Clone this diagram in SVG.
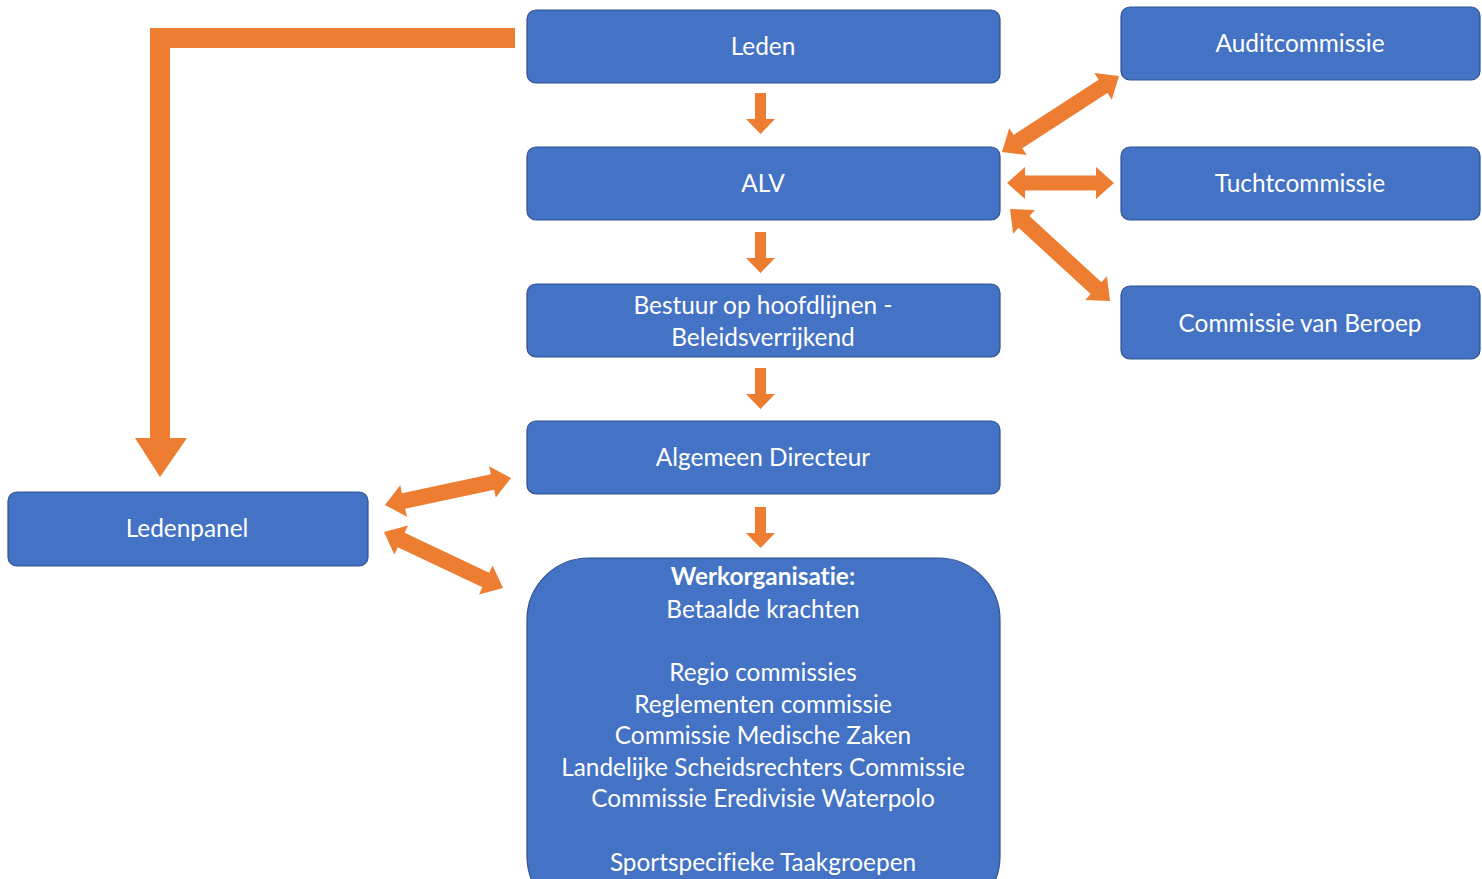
<svg xmlns="http://www.w3.org/2000/svg" width="1482" height="879" viewBox="0 0 1482 879">
<defs>
<style>
.box{fill:#4472C4;stroke:#2F528F;stroke-width:1.2}
.t{font-family:Lato,"Open Sans","Liberation Sans",sans-serif;font-size:24.4px;fill:#fff;text-anchor:middle;font-variant-ligatures:none}
.b{font-weight:bold}
.arr{fill:#ED7D31}
</style>
</defs>
<rect width="1482" height="879" fill="#fff"/>
<g id="connectors" class="arr">
  <polygon points="515,28 150,28 150,438 135,438 160,477 187,438 170,438 170,48 515,48"/>
  <polygon points="755,93 766,93 766,119 775,119 760.5,134 746,119 755,119"/>
  <polygon points="755,232 766,232 766,258 775,258 760.5,273 746,258 755,258"/>
  <polygon points="755,368 766,368 766,394 775,394 760.5,409 746,394 755,394"/>
  <polygon points="755,507 766,507 766,533 775,533 760.5,548 746,533 755,533"/>
  <polygon transform="translate(1002,152) rotate(-33)" points="0,0 19,-16 19,-8 120.5,-8 120.5,-16 139.5,0 120.5,16 120.5,8 19,8 19,16"/>
  <polygon transform="translate(1007,183)" points="0,0 18,-16 18,-7.5 89,-7.5 89,-16 107,0 89,16 89,7.5 18,7.5 18,16"/>
  <polygon transform="translate(1010,209) rotate(42.6)" points="0,0 19,-16 19,-8 116.9,-8 116.9,-16 135.9,0 116.9,16 116.9,8 19,8 19,16"/>
  <polygon transform="translate(385,505) rotate(-12.1)" points="0,0 19,-16 19,-8 109.9,-8 109.9,-16 128.9,0 109.9,16 109.9,8 19,8 19,16"/>
  <polygon transform="translate(384,532) rotate(25.2)" points="0,0 19,-16 19,-8 112.5,-8 112.5,-16 131.5,0 112.5,16 112.5,8 19,8 19,16"/>
</g>
<g id="leden"><rect class="box" x="527" y="10" width="473" height="73" rx="9"/><text class="t" x="763" y="55">Leden</text></g>
<g id="alv"><rect class="box" x="527" y="147" width="473" height="73" rx="9"/><text class="t" x="763" y="192">ALV</text></g>
<g id="bestuur"><rect class="box" x="527" y="284" width="473" height="73" rx="9"/><text class="t" x="763" y="314">Bestuur op hoofdlijnen -</text><text class="t" x="763" y="346">Beleidsverrijkend</text></g>
<g id="directeur"><rect class="box" x="527" y="421" width="473" height="73" rx="9"/><text class="t" x="763" y="466">Algemeen Directeur</text></g>
<g id="werkorganisatie"><rect class="box" x="527" y="558" width="473" height="360" rx="62"/>
<text class="t b" x="763" y="585">Werkorganisatie:</text>
<text class="t" x="763" y="618">Betaalde krachten</text>
<text class="t" x="763" y="681">Regio commissies</text>
<text class="t" x="763" y="713">Reglementen commissie</text>
<text class="t" x="763" y="744">Commissie Medische Zaken</text>
<text class="t" x="763" y="776">Landelijke Scheidsrechters Commissie</text>
<text class="t" x="763" y="807">Commissie Eredivisie Waterpolo</text>
<text class="t" x="763" y="871">Sportspecifieke Taakgroepen</text>
</g>
<g id="audit"><rect class="box" x="1121" y="7" width="359" height="73" rx="9"/><text class="t" x="1300" y="52">Auditcommissie</text></g>
<g id="tucht"><rect class="box" x="1121" y="147" width="359" height="73" rx="9"/><text class="t" x="1300" y="192">Tuchtcommissie</text></g>
<g id="beroep"><rect class="box" x="1121" y="286" width="359" height="73" rx="9"/><text class="t" x="1300" y="332">Commissie van Beroep</text></g>
<g id="ledenpanel"><rect class="box" x="8" y="492" width="360" height="74" rx="9"/><text class="t" x="187" y="537">Ledenpanel</text></g>
</svg>
